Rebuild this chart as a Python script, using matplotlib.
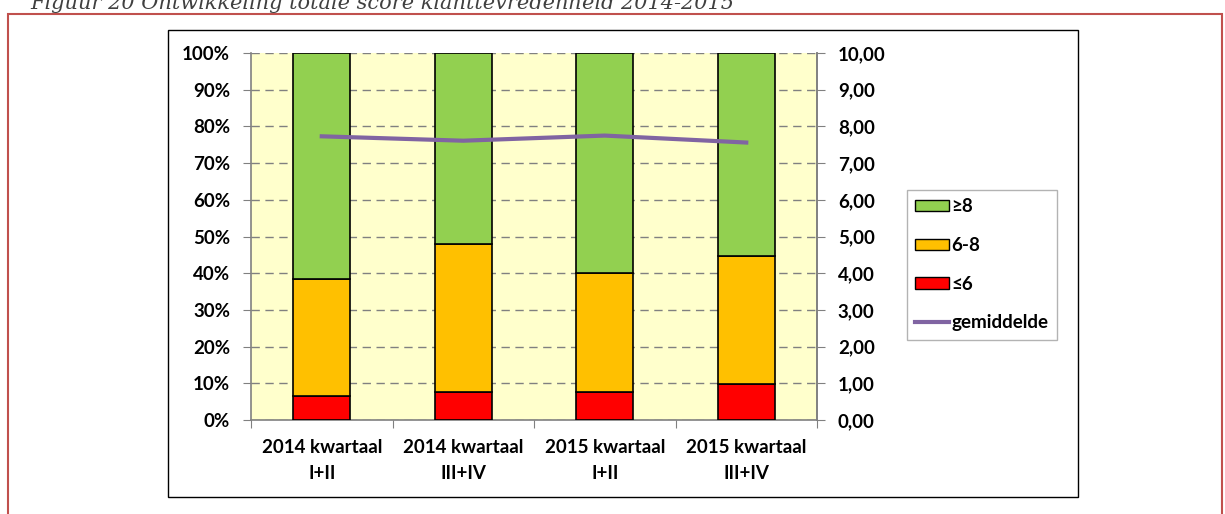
import matplotlib
matplotlib.use("Agg")
import matplotlib.pyplot as plt
import numpy as np
from matplotlib.patches import Rectangle, Patch
from matplotlib.lines import Line2D
from matplotlib.ticker import FuncFormatter, MultipleLocator

categories = ["2014 kwartaal\nI+II", "2014 kwartaal\nIII+IV", "2015 kwartaal\nI+II", "2015 kwartaal\nIII+IV"]
low = [6.5, 7.6, 7.6, 9.8]          # ≤6 (%)
mid = [31.9, 40.4, 32.4, 34.9]      # 6-8 (%)
high = [61.6, 52.0, 60.0, 55.3]     # ≥8 (%)
gemiddelde = [7.73, 7.61, 7.75, 7.56]
legend_labels = ["≥8", "6-8", "≤6", "gemiddelde"]

FONT = ["Lato", "DejaVu Sans"]
plt.rcParams["font.family"] = FONT
plt.rcParams["font.weight"] = "bold"
FS = 13.5

W, H = 1225, 514
fig = plt.figure(figsize=(W / 100, H / 100), dpi=100)

# title (partially cut off at top, as in the source)
fig.text(30 / W, 1 - 9 / H, "Figuur 20 Ontwikkeling totale score klanttevredenheid 2014-2015",
         family=["DejaVu Serif"], style="italic", weight="normal", fontsize=15, color="#404040",
         va="baseline", ha="left")
# red border
fig.patches.append(Rectangle((8 / W, -0.01), (1222 - 8) / W, 1 - 14 / H + 0.01, transform=fig.transFigure,
                             fill=False, edgecolor="#C0504D", linewidth=1.5))
# chart frame
fig.patches.append(Rectangle((168 / W, 1 - 497 / H), (1078 - 168) / W, (497 - 30) / H,
                             transform=fig.transFigure, fill=False, edgecolor="black", linewidth=1.0))

ax = fig.add_axes([251 / W, 1 - 420 / H, (817 - 251) / W, (420 - 53) / H])
ax.set_facecolor("#FFFFCC")
x = np.arange(len(categories))
bw = 0.4
low_a, mid_a, high_a = np.array(low), np.array(mid), np.array(high)
ax.bar(x, low_a, bw, color="#FF0000", edgecolor="black", linewidth=1.2, zorder=3)
ax.bar(x, mid_a, bw, bottom=low_a, color="#FFC000", edgecolor="black", linewidth=1.2, zorder=3)
ax.bar(x, high_a, bw, bottom=low_a + mid_a, color="#92D050", edgecolor="black", linewidth=1.2, zorder=3)

ax.set_xlim(-0.5, len(categories) - 0.5)
ax.set_ylim(0, 100)
ax.yaxis.set_major_locator(MultipleLocator(10))
ax.yaxis.set_major_formatter(FuncFormatter(lambda v, p: f"{int(round(v))}%"))
ax.grid(axis="y", color="#808080", linestyle=(0, (6, 4)), linewidth=1.0, zorder=1)
ax.set_xticks(np.arange(-0.5, len(categories), 1.0))
ax.set_xticklabels([])
ax.set_xticks(x, minor=True)
ax.set_xticklabels(categories, minor=True, fontsize=FS, weight="bold", linespacing=1.6)
ax.tick_params(axis="x", which="minor", length=0, pad=14)
ax.tick_params(axis="x", which="major", length=6, color="#808080", direction="out")
ax.tick_params(axis="y", length=6, color="#808080", direction="out", labelsize=FS, pad=9)
for lab in ax.get_yticklabels():
    lab.set_weight("bold")
ax.spines["top"].set_visible(False)
for s in ["left", "bottom", "right"]:
    ax.spines[s].set_color("#808080")
    ax.spines[s].set_linewidth(1.2)

ax2 = ax.twinx()
ax2.plot(x, gemiddelde, color="#8064A2", linewidth=3, zorder=5)
ax2.set_ylim(0, 10)
ax2.yaxis.set_major_locator(MultipleLocator(1))
ax2.yaxis.set_major_formatter(FuncFormatter(lambda v, p: f"{v:.2f}".replace(".", ",")))
ax2.tick_params(axis="y", length=6, color="#808080", direction="out", labelsize=FS, pad=9)
for lab in ax2.get_yticklabels():
    lab.set_weight("bold")
for s in ["top", "left", "bottom"]:
    ax2.spines[s].set_visible(False)
ax2.spines["right"].set_color("#808080")
ax2.spines["right"].set_linewidth(1.2)

handles = [Patch(facecolor="#92D050", edgecolor="black"),
           Patch(facecolor="#FFC000", edgecolor="black"),
           Patch(facecolor="#FF0000", edgecolor="black"),
           Line2D([0], [0], color="#8064A2", linewidth=3)]
leg = fig.legend(handles, legend_labels, loc="upper left",
                 bbox_to_anchor=(907 / W, 1 - 190 / H), frameon=True, fancybox=False,
                 edgecolor="#A0A0A0", prop={"size": FS, "weight": "bold"},
                 handlelength=1.8, handleheight=0.55, labelspacing=1.15, handletextpad=0.1,
                 borderpad=0.45, borderaxespad=0)
leg.get_frame().set_linewidth(1.0)

fig.savefig("out.png", dpi=100)
